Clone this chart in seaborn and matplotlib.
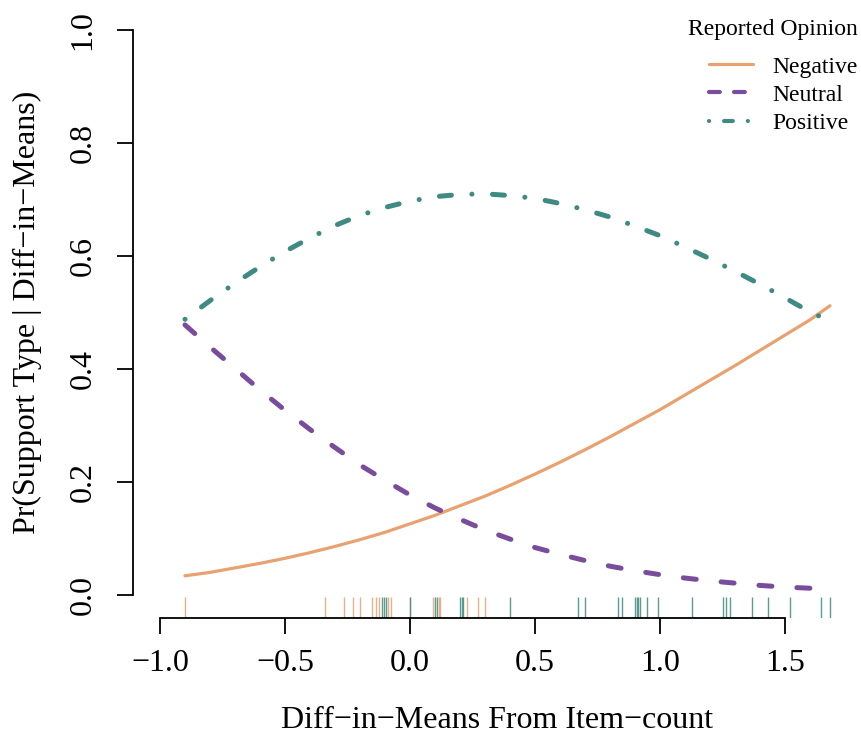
import numpy as np
import pandas as pd
import matplotlib
matplotlib.use("Agg")
import matplotlib.pyplot as plt
from matplotlib.lines import Line2D
import seaborn as sns

# ---- data ----
x_grid = [-0.9, -0.8, -0.7, -0.6, -0.5, -0.4, -0.3, -0.2, -0.1, 0.0, 0.1, 0.2, 0.3,
          0.4, 0.5, 0.6, 0.7, 0.8, 0.9, 1.0, 1.1, 1.2, 1.3, 1.4, 1.5, 1.6, 1.68]
negative = [0.034, 0.040, 0.048, 0.056, 0.065, 0.075, 0.086, 0.098, 0.111, 0.126, 0.141,
            0.158, 0.175, 0.194, 0.214, 0.235, 0.257, 0.280, 0.304, 0.328, 0.354, 0.380,
            0.406, 0.433, 0.460, 0.487, 0.512]
neutral = [0.478, 0.439, 0.401, 0.363, 0.327, 0.293, 0.261, 0.230, 0.203, 0.177, 0.154,
           0.134, 0.115, 0.099, 0.084, 0.072, 0.061, 0.051, 0.043, 0.036, 0.030, 0.025,
           0.021, 0.017, 0.014, 0.012, 0.010]
positive = [0.488, 0.521, 0.552, 0.581, 0.608, 0.632, 0.654, 0.672, 0.686, 0.697, 0.705,
            0.709, 0.710, 0.707, 0.702, 0.693, 0.682, 0.669, 0.653, 0.636, 0.616, 0.595,
            0.573, 0.550, 0.526, 0.501, 0.485]

rug_negative = [-0.9, -0.34, -0.264, -0.227, -0.2, -0.153, -0.136, -0.125, -0.087, -0.077,
                0.0, 0.093, 0.115, 0.12, 0.227, 0.273, 0.3]
rug_positive = [-0.111, -0.103, -0.097, 0.0, 0.1, 0.107, 0.2, 0.207, 0.213, 0.4, 0.673, 0.7,
                0.833, 0.847, 0.9, 0.907, 0.913, 0.92, 0.947, 0.993, 1.129, 1.251, 1.263,
                1.28, 1.367, 1.431, 1.52, 1.644, 1.68]

labels = ["Negative", "Neutral", "Positive"]
legend_title = "Reported Opinion"
x_ticks = [-1.0, -0.5, 0.0, 0.5, 1.0, 1.5]
y_ticks = [0.0, 0.2, 0.4, 0.6, 0.8, 1.0]

c_neg = "#E8A271"
c_neu = "#7A4C9C"
c_pos = "#3F8A82"

sns.set_style("white")
plt.rcParams["font.family"] = ["Liberation Serif", "DejaVu Serif"]
plt.rcParams["axes.unicode_minus"] = True
plt.rcParams["text.color"] = "black"
plt.rcParams["axes.labelcolor"] = "black"

W, H = 861, 738
fig = plt.figure(figsize=(W / 100, H / 100), dpi=100)
ax = fig.add_axes([133 / W, 1 - 617.6 / H, (W - 133) / W, (617.6 - 7.4) / H])

df = pd.DataFrame({"x": x_grid, "Negative": negative, "Neutral": neutral, "Positive": positive})

sns.lineplot(data=df, x="x", y="Negative", ax=ax, color=c_neg, lw=2.3, sort=False,
             solid_capstyle="round")
sns.lineplot(data=df, x="x", y="Neutral", ax=ax, color=c_neu, lw=3.6, sort=False)
sns.lineplot(data=df, x="x", y="Positive", ax=ax, color=c_pos, lw=3.6, sort=False)
lines = ax.get_lines()
lines[1].set_dashes([2.6, 5.0])
lines[1].set_dash_capstyle("round")
lines[2].set_dashes([0.02, 4.1, 2.4, 4.1])
lines[2].set_dash_capstyle("round")

sns.rugplot(x=rug_negative, ax=ax, color=c_neg, height=0.033, lw=1.1, alpha=0.85)
sns.rugplot(x=rug_positive, ax=ax, color=c_pos, height=0.033, lw=1.1, alpha=0.85)

ax.set_xlim(-1.108, 1.804)
ax.set_ylim(-0.04, 1.04)

for s in ["top", "right"]:
    ax.spines[s].set_visible(False)
for s in ["left", "bottom"]:
    ax.spines[s].set_color("black")
    ax.spines[s].set_linewidth(1.3)
ax.spines["left"].set_bounds(0, 1)
ax.spines["bottom"].set_bounds(-1.0, 1.5)

ax.set_xticks(x_ticks)
ax.set_xticklabels([f"{v:.1f}".replace("-", "\u2212") for v in x_ticks])
ax.set_yticks(y_ticks)
ax.set_yticklabels([f"{v:.1f}" for v in y_ticks], rotation=90, va="center")
ax.tick_params(axis="both", direction="out", length=11.5, width=1.3, color="black",
               labelsize=23, labelcolor="black", bottom=True, left=True)
ax.tick_params(axis="x", pad=11)
ax.tick_params(axis="y", pad=14)

ax.set_xlabel("Diff\u2212in\u2212Means From Item\u2212count", fontsize=23, labelpad=20,
              color="black")
ax.set_ylabel("Pr(Support Type | Diff\u2212in\u2212Means)", fontsize=23, labelpad=19,
              color="black")

handles = [
    Line2D([], [], color=c_neg, lw=2.3),
    Line2D([], [], color=c_neu, lw=3.0, dashes=[2.6, 3.4], dash_capstyle="round"),
    Line2D([], [], color=c_pos, lw=3.0, dashes=[0.02, 3.6, 2.1, 3.6], dash_capstyle="round"),
]
leg = ax.legend(handles, labels, loc="upper right",
                bbox_to_anchor=(858 / W, 1 - 56 / H), bbox_transform=fig.transFigure,
                frameon=False, fontsize=17, handlelength=1.85, handletextpad=0.85,
                labelspacing=0.28, borderaxespad=0.0, borderpad=0.0, labelcolor="black")
fig.text(858 / W, 1 - 30 / H, legend_title, ha="right", va="center", fontsize=17,
         color="black")

fig.savefig("out.png", dpi=100)
